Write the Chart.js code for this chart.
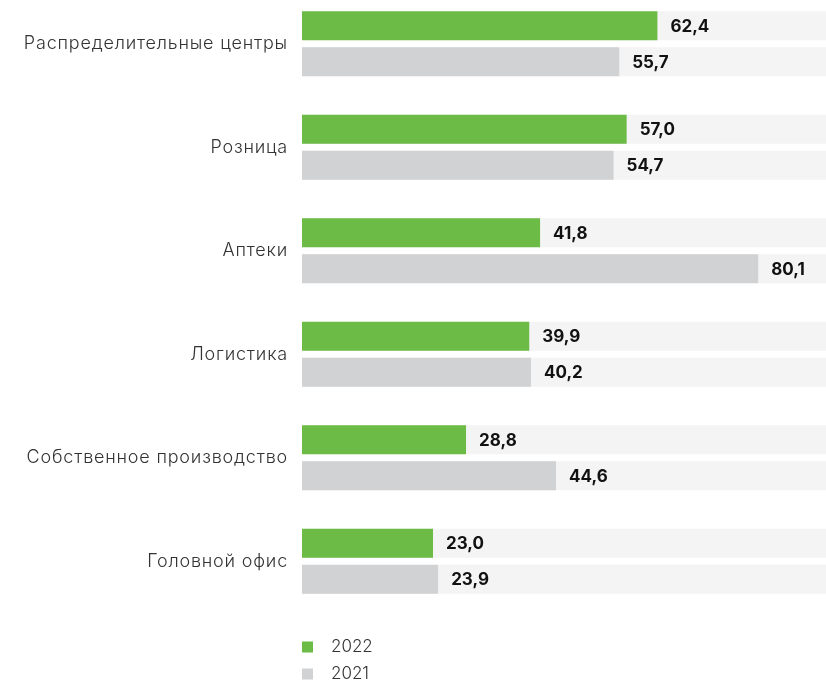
<!DOCTYPE html>
<html><head><meta charset="utf-8">
<script src="https://cdn.jsdelivr.net/npm/chart.js@4"></script>
<style>
html,body{margin:0;padding:0;background:#fff;overflow:hidden;width:826px;height:684px}
#wrap{position:absolute;left:0;top:-8px;width:826px;height:692px}
</style></head>
<body><div id="wrap"><canvas id="c" width="826" height="692"></canvas></div>
<script>
const categories = ['Распределительные центры','Розница','Аптеки','Логистика','Собственное производство','Головной офис'];
const values2022 = [62.4, 57.0, 41.8, 39.9, 28.8, 23.0];
const values2021 = [55.7, 54.7, 80.1, 40.2, 44.6, 23.9];
const seriesLabels = ['2022', '2021'];
const seriesColors = ['#6cbb46', '#d1d2d4'];
const trackColor = '#f4f4f4';
const FONT = 'Inter, "Noto Sans", sans-serif';

const fmt = v => v.toFixed(1).replace('.', ',');

const spacingPlugin = {
  id: 'spacing',
  beforeDraw(chart) { chart.ctx.letterSpacing = '0.8px'; }
};

const trackPlugin = {
  id: 'tracks',
  beforeDatasetsDraw(chart) {
    const {ctx, chartArea} = chart;
    ctx.letterSpacing = '0px';
    ctx.save();
    ctx.fillStyle = trackColor;
    chart.data.datasets.forEach((ds, i) => {
      chart.getDatasetMeta(i).data.forEach(el => {
        ctx.fillRect(chartArea.left, el.y - el.height / 2, chartArea.right - chartArea.left, el.height);
      });
    });
    ctx.restore();
  }
};

const valuePlugin = {
  id: 'values',
  afterDatasetsDraw(chart) {
    const {ctx} = chart;
    ctx.save();
    ctx.letterSpacing = '0px';
    ctx.font = 'bold 17px ' + FONT;
    ctx.fillStyle = '#111';
    ctx.textAlign = 'left';
    ctx.textBaseline = 'middle';
    chart.data.datasets.forEach((ds, i) => {
      chart.getDatasetMeta(i).data.forEach((el, j) => {
        ctx.fillText(fmt(ds.data[j]), el.x + 13, el.y + 1);
      });
    });
    ctx.restore();
  }
};

const legendPlugin = {
  id: 'customLegend',
  afterDraw(chart) {
    const {ctx, chartArea} = chart;
    ctx.save();
    ctx.letterSpacing = '0px';
    ctx.font = '300 17px ' + FONT;
    ctx.textBaseline = 'middle';
    ctx.textAlign = 'left';
    chart.data.datasets.forEach((ds, i) => {
      const cy = chartArea.bottom + 34 + i * 27;
      ctx.fillStyle = ds.backgroundColor;
      ctx.fillRect(chartArea.left, cy - 5.5, 11, 11);
      ctx.fillStyle = '#333';
      ctx.fillText(ds.label, chartArea.left + 29, cy);
    });
    ctx.restore();
  }
};

new Chart(document.getElementById('c'), {
  type: 'bar',
  data: {
    labels: categories,
    datasets: [
      {label: seriesLabels[0], data: values2022, backgroundColor: seriesColors[0], categoryPercentage: 0.696, barPercentage: 0.806},
      {label: seriesLabels[1], data: values2021, backgroundColor: seriesColors[1], categoryPercentage: 0.696, barPercentage: 0.806}
    ]
  },
  options: {
    indexAxis: 'y',
    responsive: false,
    animation: false,
    layout: {padding: {top: 0, bottom: 71, left: 0, right: 0}},
    scales: {
      x: {display: false, min: 0, max: 92},
      y: {
        grid: {display: false, drawTicks: false},
        border: {display: false},
        ticks: {padding: 14, color: '#333', font: {family: FONT, size: 18, weight: 300}},
        afterFit(scale) { scale.width = 302; scale.paddingTop = 0; scale.paddingBottom = 0; }
      }
    },
    plugins: {legend: {display: false}, tooltip: {enabled: false}}
  },
  plugins: [spacingPlugin, trackPlugin, valuePlugin, legendPlugin]
});
</script>
</body></html>
